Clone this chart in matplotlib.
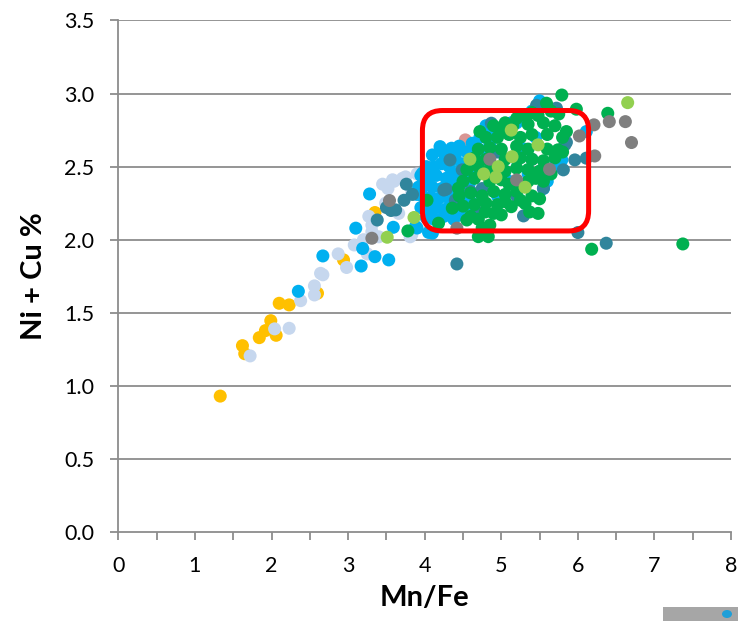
import matplotlib
matplotlib.use("Agg")
import matplotlib.pyplot as plt
from matplotlib.patches import FancyBboxPatch, Rectangle, Ellipse

plt.rcParams['font.family'] = ['Lato', 'DejaVu Sans']

# Mn/Fe (x) and Ni + Cu % (y) per sample group
yellow_x = [1.33, 1.62, 1.65, 1.84, 1.92, 1.99, 2.06, 2.10, 2.23, 2.60, 2.94, 3.35]
yellow_y = [0.93, 1.275, 1.22, 1.33, 1.378, 1.446, 1.346, 1.565, 1.554, 1.634, 1.862, 2.186]

pale_x = [1.72, 2.04, 2.23, 2.38, 2.56, 2.56, 2.64, 2.67, 2.87, 2.98, 3.08, 3.25,
          3.31, 3.31, 3.27, 3.49, 3.60, 3.71, 3.58, 3.66, 3.83, 3.81, 3.83, 3.45,
          3.52, 3.75, 3.90, 3.20, 3.40]
pale_y = [1.205, 1.39, 1.394, 1.583, 1.622, 1.684, 1.77, 1.76, 1.903, 1.81, 1.964, 1.903,
          2.055, 2.10, 2.16, 2.25, 2.40, 2.42, 2.41, 2.18, 2.033, 2.02, 2.32, 2.38,
          2.35, 2.43, 2.45, 2.00, 2.02]

pink_x = [4.53]
pink_y = [2.683]

blue_x = [2.35, 2.67, 3.10, 3.17, 3.19, 3.35, 3.53, 3.59, 3.28, 3.90, 4.05, 3.97,
          4.10, 4.18, 3.88,
          4.20, 4.35, 4.45, 4.62, 4.72, 4.80, 4.90, 5.05, 5.20, 5.40, 5.50, 5.55,
          4.10, 4.25, 4.40, 4.55, 4.70, 4.85,
          4.02, 4.12, 4.22, 4.32, 4.48, 4.60, 4.75,
          3.95, 4.05, 4.15, 4.28, 4.38, 4.52, 4.66,
          3.92, 4.00, 4.10, 4.22, 4.34, 4.45, 4.58,
          3.90, 3.97, 4.08, 4.18, 4.30, 4.42, 4.55,
          3.95, 4.05, 4.15, 4.28, 4.40, 4.52, 4.62,
          4.02, 4.12, 4.25, 4.38, 4.48,
          5.55, 5.60, 5.70, 5.75, 5.79, 6.11, 5.13, 5.30, 5.45, 5.35, 5.20, 5.00,
          4.90, 5.10, 4.95]
blue_y = [1.647, 1.889, 2.079, 1.82, 1.94, 1.884, 1.862, 2.085, 2.313, 2.08, 2.05, 2.455,
          2.045, 2.135, 2.09,
          2.637, 2.626, 2.64, 2.66, 2.70, 2.78, 2.72, 2.76, 2.80, 2.88, 2.95, 2.91,
          2.58, 2.59, 2.58, 2.60, 2.62, 2.65,
          2.50, 2.50, 2.52, 2.50, 2.52, 2.55, 2.57,
          2.44, 2.43, 2.44, 2.42, 2.45, 2.46, 2.48,
          2.36, 2.37, 2.36, 2.35, 2.37, 2.40, 2.38,
          2.31, 2.30, 2.29, 2.28, 2.29, 2.31, 2.30,
          2.22, 2.21, 2.22, 2.21, 2.23, 2.20, 2.25,
          2.15, 2.14, 2.16, 2.14, 2.17,
          2.35, 2.40, 2.50, 2.55, 2.546, 2.74, 2.80, 2.62, 2.70, 2.45, 2.55, 2.50,
          2.45, 2.40, 2.30]

teal_x = [3.38, 3.56, 3.62, 3.73, 3.76, 3.84, 4.25, 4.33, 4.28, 4.49, 4.40, 4.68,
          4.87, 5.46, 5.72, 5.83, 6.11, 5.96, 5.81, 5.29, 6.00, 6.37, 4.42, 5.55,
          5.85, 4.60, 4.95, 5.20, 5.40, 4.75, 3.50]
teal_y = [2.135, 2.20, 2.204, 2.27, 2.38, 2.31, 2.34, 2.546, 2.346, 2.478, 2.27, 2.19,
          2.797, 2.92, 2.90, 2.649, 2.558, 2.546, 2.478, 2.163, 2.049, 1.976, 1.834, 2.352,
          2.667, 2.33, 2.60, 2.30, 2.55, 2.35, 2.22]

green_x = [3.78, 4.03, 4.18, 4.70, 4.83, 4.72, 4.98, 5.31, 5.48, 5.59, 5.79, 5.98,
           6.39, 5.85, 5.74, 4.44, 4.36, 4.55, 5.13, 5.48, 5.37, 5.31, 4.79, 6.18, 7.37,
           5.20, 5.40, 5.65, 5.75,
           4.90, 5.05, 5.15, 5.35, 5.55, 5.70,
           4.80, 4.95, 5.10, 5.25, 5.40, 5.60, 5.80,
           4.70, 4.85, 5.00, 5.20, 5.35, 5.60, 5.80,
           4.65, 4.80, 5.05, 5.25, 5.40, 5.55, 5.70,
           4.55, 4.70, 4.85, 5.05, 5.20, 5.35, 5.50, 5.65,
           4.50, 4.65, 4.85, 5.00, 5.10, 5.35, 5.45, 5.55,
           4.45, 4.60, 4.75, 4.90, 5.05, 5.20, 5.40, 5.50,
           4.50, 4.65, 4.80, 4.95, 5.05, 5.25,
           4.60, 4.70, 4.90, 5.00, 4.85, 4.75]
green_y = [2.06, 2.27, 2.113, 2.021, 2.021, 2.74, 2.75, 2.85, 2.85, 2.934, 2.99, 2.893,
           2.865, 2.74, 2.615, 2.352, 2.216, 2.135, 2.226, 2.18, 2.19, 2.248, 2.19, 1.935, 1.971,
           2.83, 2.87, 2.88, 2.86,
           2.78, 2.80, 2.78, 2.79, 2.80, 2.78,
           2.70, 2.70, 2.72, 2.70, 2.72, 2.72, 2.70,
           2.62, 2.63, 2.62, 2.64, 2.62, 2.62, 2.60,
           2.56, 2.55, 2.55, 2.56, 2.55, 2.54, 2.56,
           2.48, 2.50, 2.48, 2.47, 2.49, 2.48, 2.47, 2.45,
           2.40, 2.42, 2.40, 2.41, 2.38, 2.40, 2.42, 2.40,
           2.30, 2.32, 2.30, 2.33, 2.31, 2.33, 2.30, 2.28,
           2.23, 2.24, 2.25, 2.24, 2.26, 2.27,
           2.16, 2.14, 2.18, 2.17, 2.10, 2.08]

gray_x = [3.31, 3.54, 4.42, 4.85, 5.63, 5.20, 6.02, 6.21, 6.41, 6.62, 6.70, 6.22]
gray_y = [2.01, 2.268, 2.079, 2.551, 2.482, 2.409, 2.71, 2.786, 2.808, 2.808, 2.665, 2.573]

lime_x = [3.51, 3.86, 4.59, 4.77, 4.93, 4.96, 5.13, 5.48, 5.14, 5.31, 6.65]
lime_y = [2.017, 2.152, 2.551, 2.45, 2.428, 2.50, 2.75, 2.649, 2.568, 2.359, 2.938]

series = [
    (yellow_x, yellow_y, '#FFC000'),
    (pale_x, pale_y, '#C6D7EE'),
    (pink_x, pink_y, '#D99694'),
    (blue_x, blue_y, '#00B0F0'),
    (teal_x, teal_y, '#31859C'),
    (green_x, green_y, '#00B050'),
    (gray_x, gray_y, '#7F7F7F'),
    (lime_x, lime_y, '#92D050'),
]

fig = plt.figure(figsize=(7.38, 6.21), dpi=100)
ax = fig.add_axes([0.1604, 0.1433, 0.8302, 0.8237])

grid_col = '#8C8C8C'
for k in range(1, 8):
    ax.axhline(0.5 * k, color=grid_col, lw=1.3, zorder=1)

for xs, ys, col in series:
    ax.scatter(xs, ys, s=88, color=col, edgecolors='none', zorder=3)

# highlighted box, rounded in screen space
box = FancyBboxPatch((3.97, 2.06), 6.14 - 3.97, 2.884 - 2.06,
                     boxstyle="round,pad=0,rounding_size=0.26",
                     mutation_aspect=76.9 / 146.1,
                     fill=False, edgecolor='#FF0000', linewidth=3.6, zorder=5)
ax.add_patch(box)

ax.set_xlim(0, 8)
ax.set_ylim(0, 3.5)
ax.set_xticks(range(0, 9))
ax.set_xticks([0.5 + k for k in range(8)], minor=True)
ax.set_yticks([0.5 * k for k in range(8)])
ax.set_yticklabels([f"{0.5 * k:.1f}" for k in range(8)])

for side in ['top', 'right']:
    ax.spines[side].set_visible(False)
for side in ['left', 'bottom']:
    ax.spines[side].set_color(grid_col)
    ax.spines[side].set_linewidth(1.3)

ax.tick_params(axis='both', which='both', direction='out', length=5.5, width=1.3,
               color=grid_col, labelsize=15.5, labelcolor='black')
ax.tick_params(axis='y', pad=12)
ax.tick_params(axis='x', pad=12)

ax.set_xlabel("Mn/Fe", fontsize=21, fontweight='bold', labelpad=6)
ax.set_ylabel("Ni + Cu %", fontsize=21, fontweight='bold', labelpad=12)

# leftover legend fragment at the bottom-right corner
fig.patches.append(Rectangle((663 / 738, 0), 75 / 738, 14 / 621, transform=fig.transFigure,
                             facecolor='#A6A6A6', edgecolor='none', figure=fig))
fig.patches.append(Ellipse((727 / 738, 7 / 621), 10 / 738, 8 / 621, transform=fig.transFigure,
                           facecolor='#1E9FD8', edgecolor='none', figure=fig))

fig.savefig("out.png", dpi=100)
